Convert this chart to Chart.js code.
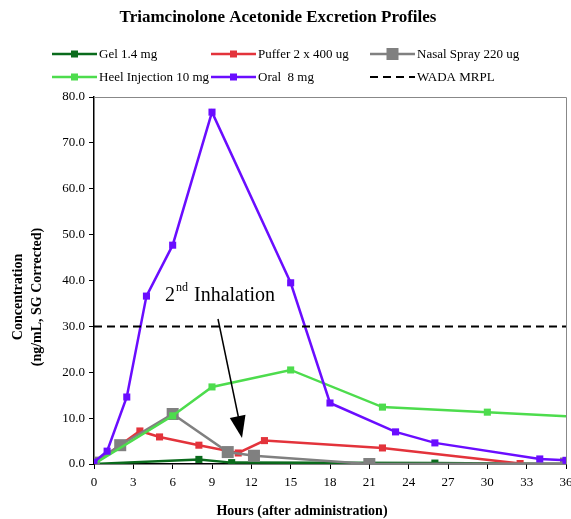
<!DOCTYPE html>
<html>
<head>
<meta charset="utf-8">
<script src="https://cdn.jsdelivr.net/npm/chart.js@4/dist/chart.umd.min.js"></script>
<style>
  html, body { margin: 0; padding: 0; background: #fff; }
  #wrap { width: 571px; height: 519px; }
</style>
</head>
<body>
<div id="wrap"><canvas id="myChart" width="571" height="519"></canvas></div>
<script>
// values
let gelHours = [0, 8, 10.5, 26, 36];
let gelValues = [0, 1.0, 0.3, 0.2, 0.0];

let pufferHours = [0, 3.5, 5, 8, 11, 13, 22, 32.5];
let pufferValues = [0, 7.2, 5.9, 4.1, 2.4, 5.1, 3.5, 0.1];

let nasalHours = [0, 2, 6, 10.2, 12.2, 21, 36];
let nasalValues = [0.3, 4.1, 10.9, 2.6, 1.8, 0, 0.1];

let heelHours = [0, 6, 9, 15, 22, 30, 36];
let heelValues = [0, 10.5, 16.8, 20.5, 12.4, 11.3, 10.4];

let oralHours = [0, 1, 2.5, 4, 6, 9, 15, 18, 23, 26, 34, 36];
let oralValues = [0.4, 2.8, 14.6, 36.6, 47.7, 76.7, 39.5, 13.3, 7.0, 4.6, 1.1, 0.8];

let mrplHours = [0, 36];
let mrplValues = [30, 30];

let xTicks = [0, 3, 6, 9, 12, 15, 18, 21, 24, 27, 30, 33, 36];

const SERIF = "'Liberation Serif', 'DejaVu Serif', serif";

function pts(xs, ys) {
    return xs.map(function (x, i) { return { x: x, y: ys[i] }; });
}

let series = [
    { label: "Gel 1.4 mg", data: pts(gelHours, gelValues), color: "#0a6b1c", r: 5, order: 6 },
    { label: "Puffer 2 x 400 ug", data: pts(pufferHours, pufferValues), color: "#e3333b", r: 5, order: 5 },
    { label: "Nasal Spray 220 ug", data: pts(nasalHours, nasalValues), color: "#808080", r: 8.5, order: 4 },
    { label: "Heel Injection 10 mg", data: pts(heelHours, heelValues), color: "#4ddc4d", r: 5, order: 3 },
    { label: "Oral  8 mg", data: pts(oralHours, oralValues), color: "#6a0dff", r: 5, order: 2 }
];

let datasets = series.map(function (s) {
    return {
        label: s.label,
        data: s.data,
        borderColor: s.color,
        backgroundColor: s.color,
        borderWidth: 2.5,
        pointStyle: "rect",
        pointRadius: s.r,
        pointBorderWidth: 0,
        tension: 0,
        order: s.order
    };
});
datasets.push({
    label: "WADA MRPL",
    data: pts(mrplHours, mrplValues),
    borderColor: "#000",
    borderWidth: 2,
    borderDash: [8, 5],
    pointRadius: 0,
    order: 1
});

// heel line reaches the axis edge without a visible marker
datasets[3].pointRadius = heelHours.map(function (h) { return h === 36 ? 0 : 5; });

const decor = {
    id: "decor",
    afterDraw: function (chart) {
        let ctx = chart.ctx;
        let a = chart.chartArea;
        ctx.save();

        // plot frame, top and right
        ctx.strokeStyle = "#888";
        ctx.lineWidth = 1;
        ctx.beginPath();
        ctx.moveTo(a.left, a.top + 0.5);
        ctx.lineTo(a.right + 0.5, a.top + 0.5);
        ctx.lineTo(a.right + 0.5, a.bottom);
        ctx.stroke();

        // title
        ctx.fillStyle = "#000";
        ctx.textAlign = "center";
        ctx.textBaseline = "middle";
        ctx.font = "bold 17px " + SERIF;
        ctx.fillText("Triamcinolone Acetonide Excretion Profiles", 278, 18);

        // legend
        let cols = [52, 211, 370];
        let rows = [54, 77];
        let items = series.concat([{ label: "WADA MRPL", color: "#000", dash: true }]);
        ctx.font = "13px " + SERIF;
        ctx.textAlign = "left";
        items.forEach(function (it, i) {
            let x = cols[i % 3];
            let y = rows[Math.floor(i / 3)];
            ctx.strokeStyle = it.color;
            ctx.lineWidth = it.dash ? 2 : 2.5;
            ctx.setLineDash(it.dash ? [8, 5] : []);
            ctx.beginPath();
            ctx.moveTo(x, y);
            ctx.lineTo(x + 45, y);
            ctx.stroke();
            ctx.setLineDash([]);
            if (!it.dash) {
                let s = it.r > 6 ? 12 : 7;
                ctx.fillStyle = it.color;
                ctx.fillRect(x + 22.5 - s / 2, y - s / 2, s, s);
            }
            ctx.fillStyle = "#000";
            ctx.fillText(it.label, x + 47, y + 1);
        });

        // axis titles
        ctx.font = "bold 14px " + SERIF;
        ctx.textAlign = "center";
        ctx.fillText("Hours (after administration)", 302, 511);
        ctx.save();
        ctx.translate(18, 297);
        ctx.rotate(-Math.PI / 2);
        ctx.fillText("Concentration", 0, 0);
        ctx.fillText("(ng/mL, SG Corrected)", 0, 19);
        ctx.restore();

        // annotation
        ctx.font = "20px " + SERIF;
        ctx.textAlign = "left";
        ctx.fillText("2", 165, 296);
        ctx.font = "12px " + SERIF;
        ctx.fillText("nd", 176, 288);
        ctx.font = "20px " + SERIF;
        ctx.fillText("Inhalation", 194, 296);

        let x1 = 218, y1 = 319, x2 = 242, y2 = 438;
        ctx.strokeStyle = "#000";
        ctx.lineWidth = 1.5;
        ctx.beginPath();
        ctx.moveTo(x1, y1);
        ctx.lineTo(x2 - 3, y2 - 18);
        ctx.stroke();
        let ang = Math.atan2(y2 - y1, x2 - x1);
        ctx.beginPath();
        ctx.moveTo(x2, y2);
        ctx.lineTo(x2 - 22 * Math.cos(ang) + 8 * Math.sin(ang), y2 - 22 * Math.sin(ang) - 8 * Math.cos(ang));
        ctx.lineTo(x2 - 22 * Math.cos(ang) - 8 * Math.sin(ang), y2 - 22 * Math.sin(ang) + 8 * Math.cos(ang));
        ctx.closePath();
        ctx.fillStyle = "#000";
        ctx.fill();

        ctx.restore();
    }
};

new Chart("myChart", {
    type: "line",
    data: { datasets: datasets },
    options: {
        responsive: false,
        animation: false,
        layout: { autoPadding: false, padding: { top: 97, right: 5, left: 0, bottom: 0 } },
        plugins: {
            legend: { display: false },
            title: { display: false },
            tooltip: { enabled: false }
        },
        scales: {
            x: {
                type: "linear",
                min: 0,
                max: 36,
                afterBuildTicks: function (scale) {
                    scale.ticks = xTicks.map(function (v) { return { value: v }; });
                },
                afterFit: function (scale) {
                    scale.height = 55;
                    scale.paddingLeft = 0;
                    scale.paddingRight = 0;
                },
                grid: {
                    display: true,
                    drawOnChartArea: false,
                    drawTicks: true,
                    tickLength: 5,
                    color: "#000"
                },
                border: { color: "#000", width: 1.5 },
                ticks: {
                    color: "#000",
                    font: { family: SERIF, size: 13 },
                    padding: 6,
                    maxRotation: 0
                }
            },
            y: {
                min: 0,
                max: 80,
                afterFit: function (scale) {
                    scale.width = 94;
                    scale.paddingTop = 0;
                    scale.paddingBottom = 0;
                },
                grid: {
                    display: true,
                    drawOnChartArea: false,
                    drawTicks: true,
                    tickLength: 5,
                    color: "#000"
                },
                border: { color: "#000", width: 1.5 },
                ticks: {
                    stepSize: 10,
                    color: "#000",
                    font: { family: SERIF, size: 13 },
                    padding: 4,
                    callback: function (v) { return v.toFixed(1); }
                }
            }
        }
    },
    plugins: [decor]
});
</script>
</body>
</html>
